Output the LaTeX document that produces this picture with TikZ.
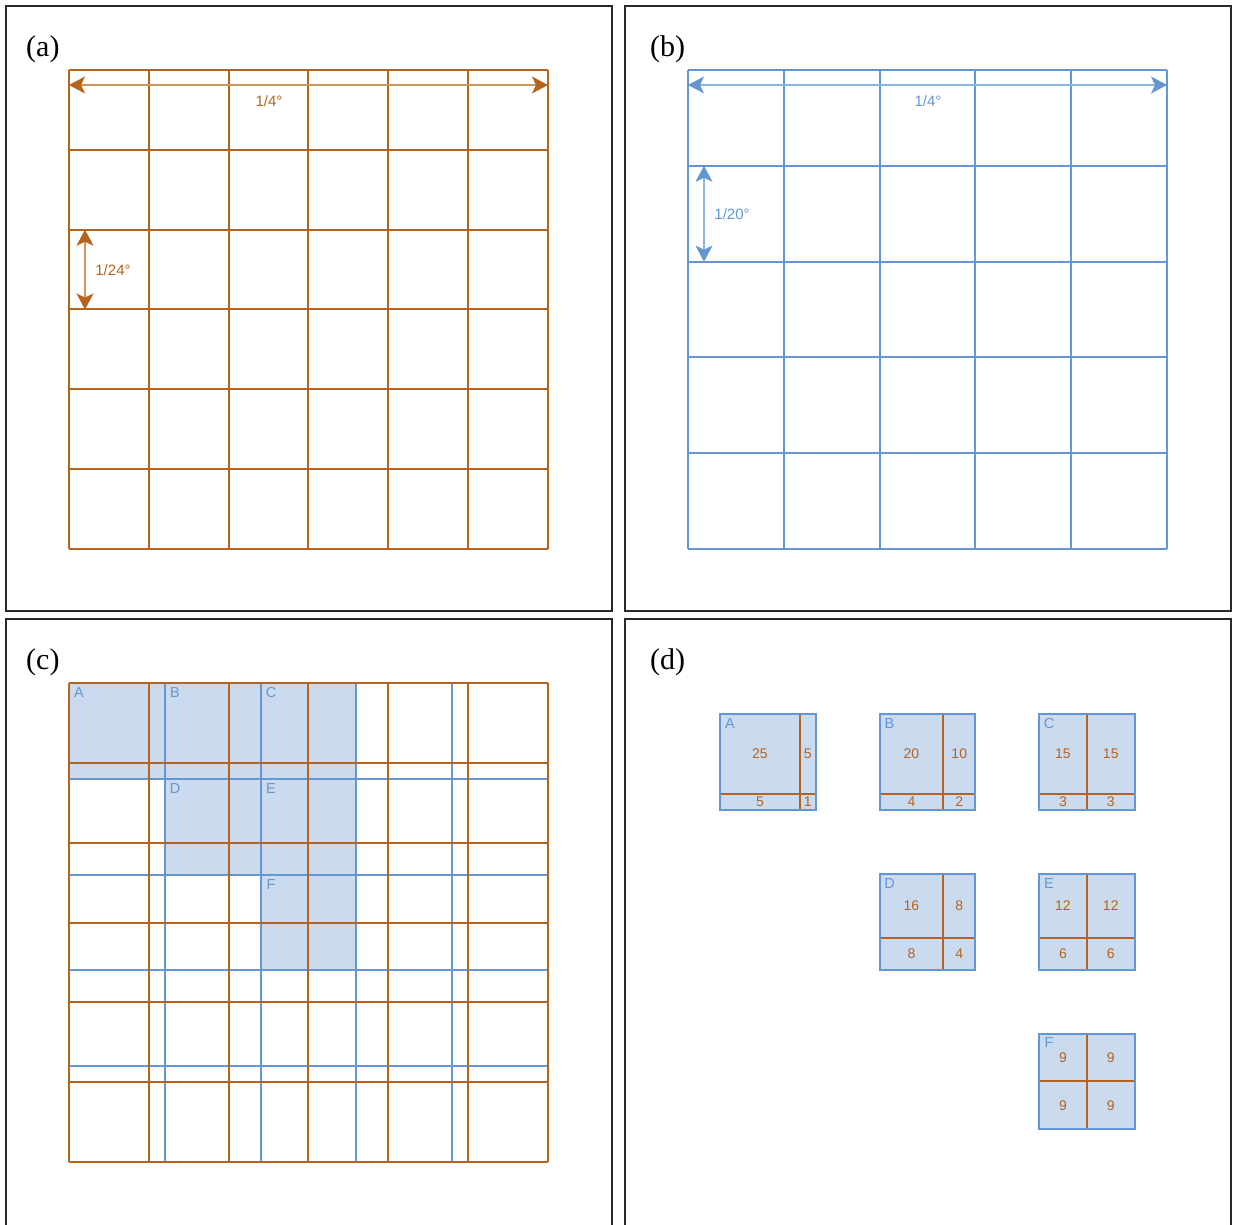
\documentclass[tikz,border=0pt]{standalone}
\usepackage{fontspec}
\setmainfont{Liberation Serif}
\newfontfamily\lsans{Liberation Sans}
\usetikzlibrary{arrows.meta}
\definecolor{org}{RGB}{180,100,30}
\definecolor{orglt}{RGB}{205,150,95}
\definecolor{blu}{RGB}{100,150,210}
\definecolor{blult}{RGB}{140,180,225}
\definecolor{bfill}{RGB}{202,219,240}
\definecolor{frm}{RGB}{40,40,40}
\newcommand\cellbox[9]{%
  \fill[bfill] (#1,#2) rectangle ++(95.6,95.6);
  \draw[og] ({#1+#4},#2) -- ++(0,95.6);
  \draw[og] (#1,{#2+#5}) -- ++(95.6,0);
  \draw[bl] (#1,#2) rectangle ++(95.6,95.6);
  \node[lett] (#3-l) at ({#1+10},{#2+9}) {#3};
  \node[num] (#3-tl) at ({#1+#4/2},{#2+#5/2}) {#6};
  \node[num] (#3-tr) at ({#1+(#4+95.6)/2},{#2+#5/2}) {#7};
  \node[num] (#3-bl) at ({#1+#4/2},{#2+(#5+95.6)/2}) {#8};
  \node[num] (#3-br) at ({#1+(#4+95.6)/2},{#2+(#5+95.6)/2}) {#9};
}
\begin{document}
\begin{tikzpicture}[x=1pt,y=-1pt,
  frame/.style={draw=frm,line width=1.2pt},
  og/.style={draw=org,line width=2pt},
  bl/.style={draw=blu,line width=2pt},
  panel/.style={font=\fontsize{30}{34}\selectfont,anchor=base west,inner sep=0pt},
  slab/.style={font=\lsans\fontsize{15}{18}\selectfont,inner sep=0pt},
  lett/.style={font=\lsans\fontsize{14.5}{17}\selectfont,text=blu,inner sep=0pt},
  num/.style={font=\lsans\fontsize{14}{16}\selectfont,text=org,inner sep=0pt},
  oarrow/.style={draw=orglt,line width=1.1pt,
    {Stealth[length=16pt,width=17pt,inset=4pt,color=org]}-{Stealth[length=16pt,width=17pt,inset=4pt,color=org]}},
  barrow/.style={draw=blult,line width=1.1pt,
    {Stealth[length=16pt,width=17pt,inset=4pt,color=blu]}-{Stealth[length=16pt,width=17pt,inset=4pt,color=blu]}}
]
\useasboundingbox (0,0) rectangle (1233,1224);
\clip (0,0) rectangle (1233,1224);
\fill[white] (0,0) rectangle (1233,1224);

% frames
\draw[frame] (6,6) rectangle (612,611);
\draw[frame] (625,6) rectangle (1231,611);
\draw[frame] (6,619) rectangle (612,1260);
\draw[frame] (625,619) rectangle (1231,1260);

% panel labels
\node[panel] (pa) at (26,56) {(a)};
\node[panel] (pb) at (650,56) {(b)};
\node[panel] (pc) at (26,669) {(c)};
\node[panel] (pd) at (650,669) {(d)};

% ---------- (a) ----------
\foreach \i in {0,...,6} {
  \draw[og] ({69+\i*79.83},70) -- ({69+\i*79.83},549);
  \draw[og] (69,{70+\i*79.83}) -- (548,{70+\i*79.83});
}
\coordinate (ah1) at (69,85);
\coordinate (ah2) at (548,85);
\draw[oarrow] (ah1) -- (ah2);
\node[slab,text=org] (ala) at (269,101) {1/4°};
\coordinate (av1) at (85,229.7);
\coordinate (av2) at (85,309.5);
\draw[oarrow] (av1) -- (av2);
\node[slab,text=org] (alb) at (113,270) {1/24°};

% ---------- (b) ----------
\foreach \i in {0,...,5} {
  \draw[bl] ({688+\i*95.8},70) -- ({688+\i*95.8},549);
  \draw[bl] (688,{70+\i*95.8}) -- (1167,{70+\i*95.8});
}
\coordinate (bh1) at (688,85);
\coordinate (bh2) at (1167,85);
\draw[barrow] (bh1) -- (bh2);
\node[slab,text=blu] (bla) at (928,101) {1/4°};
\coordinate (bv1) at (704,165.8);
\coordinate (bv2) at (704,261.6);
\draw[barrow] (bv1) -- (bv2);
\node[slab,text=blu] (blb) at (732,214) {1/20°};

% ---------- (c) ----------
\fill[bfill] (69,683) rectangle (356.4,778.8);
\fill[bfill] (164.8,778.8) rectangle (356.4,874.6);
\fill[bfill] (260.6,874.6) rectangle (356.4,970.4);
\foreach \i in {1,...,4} {
  \draw[bl] ({69+\i*95.8},683) -- ({69+\i*95.8},1162);
  \draw[bl] (69,{683+\i*95.8}) -- (548,{683+\i*95.8});
}
\foreach \i in {0,...,6} {
  \draw[og] ({69+\i*79.83},683) -- ({69+\i*79.83},1162);
  \draw[og] (69,{683+\i*79.83}) -- (548,{683+\i*79.83});
}
\node[lett] (cA) at (79,692) {A};
\node[lett] (cB) at (175,692) {B};
\node[lett] (cC) at (271,692) {C};
\node[lett] (cD) at (175,788) {D};
\node[lett] (cE) at (271,788) {E};
\node[lett] (cF) at (271,884) {F};

% ---------- (d) ----------
\cellbox{720}{714}{A}{79.8}{79.8}{25}{5}{5}{1}
\cellbox{879.5}{714}{B}{63.9}{79.8}{20}{10}{4}{2}
\cellbox{1039}{714}{C}{47.9}{79.8}{15}{15}{3}{3}
\cellbox{879.5}{874}{D}{63.9}{63.9}{16}{8}{8}{4}
\cellbox{1039}{874}{E}{47.9}{63.9}{12}{12}{6}{6}
\cellbox{1039}{1033.5}{F}{47.9}{47.9}{9}{9}{9}{9}
\end{tikzpicture}
\end{document}
